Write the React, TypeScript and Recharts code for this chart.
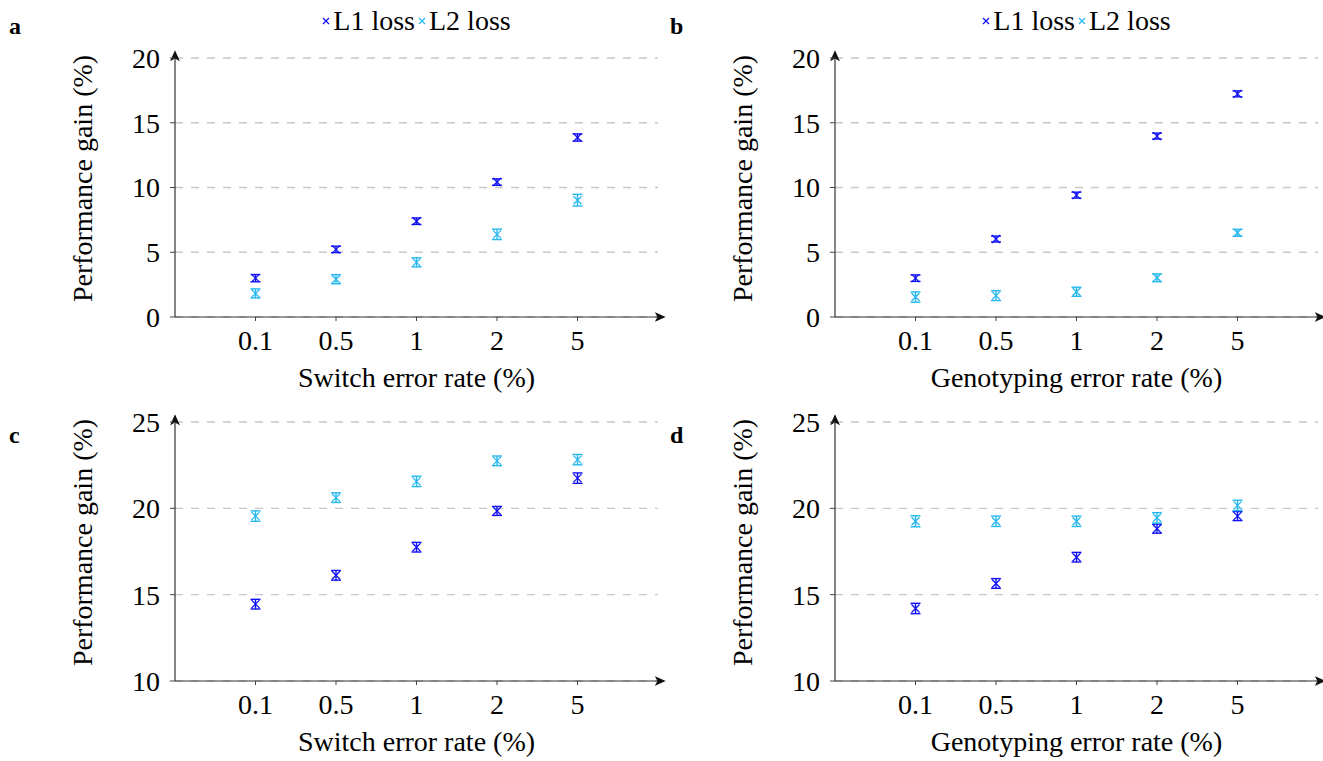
import React from 'react';
import { ScatterChart, Scatter, XAxis, YAxis, CartesianGrid, ErrorBar, Legend } from 'recharts';

const categories = ['0.1', '0.5', '1', '2', '5'];
const catPositions = [1, 2, 3, 4, 5];

const aL1 = [3.0, 5.22, 7.4, 10.42, 13.86];
const aL1Err = [0.28, 0.25, 0.25, 0.25, 0.28];
const aL2 = [1.82, 2.92, 4.22, 6.38, 9.02];
const aL2Err = [0.35, 0.35, 0.35, 0.4, 0.45];

const bL1 = [3.0, 6.02, 9.41, 13.97, 17.23];
const bL1Err = [0.25, 0.23, 0.23, 0.23, 0.23];
const bL2 = [1.54, 1.65, 1.95, 3.03, 6.5];
const bL2Err = [0.4, 0.38, 0.35, 0.3, 0.27];

const cL1 = [14.45, 16.12, 17.75, 19.85, 21.75];
const cL1Err = [0.28, 0.28, 0.28, 0.26, 0.3];
const cL2 = [19.55, 20.62, 21.56, 22.75, 22.82];
const cL2Err = [0.3, 0.28, 0.3, 0.28, 0.3];

const dL1 = [14.2, 15.65, 17.17, 18.82, 19.55];
const dL1Err = [0.3, 0.28, 0.28, 0.26, 0.26];
const dL2 = [19.25, 19.25, 19.25, 19.45, 20.17];
const dL2Err = [0.32, 0.3, 0.3, 0.3, 0.3];

const yTicksTop = [0, 5, 10, 15, 20];
const yTicksBottom = [10, 15, 20, 25];

const L1_COLOR = '#1010f5';
const L2_COLOR = '#25b8ee';
const FONT = 'Liberation Serif, Times New Roman, serif';
const FS = 28;

const build = (vals: number[], errs: number[]) =>
  vals.map((v, i) => ({ x: catPositions[i], y: v, e: errs[i] }));

const crossShape = (color: string) => (props: any) => {
  const { cx, cy } = props;
  if (cx == null || cy == null) return <g />;
  const s = 4;
  return (
    <path
      d={`M${cx - s},${cy - s}L${cx + s},${cy + s}M${cx - s},${cy + s}L${cx + s},${cy - s}`}
      stroke={color}
      strokeWidth={1.3}
      fill="none"
    />
  );
};

const LegendContent = () => (
  <div
    style={{
      display: 'flex',
      justifyContent: 'center',
      alignItems: 'center',
      fontFamily: FONT,
      fontSize: FS,
      color: '#000',
      lineHeight: '30px',
    }}
  >
    {[
      { name: 'L1 loss', color: L1_COLOR },
      { name: 'L2 loss', color: L2_COLOR },
    ].map((it, i) => (
      <span key={it.name} style={{ display: 'inline-flex', alignItems: 'center', marginLeft: i ? 3 : 0 }}>
        <svg width={8} height={8} style={{ marginRight: 3 }}>
          <path d="M1,1L7,7M1,7L7,1" stroke={it.color} strokeWidth={1.3} />
        </svg>
        <span>{it.name}</span>
      </span>
    ))}
  </div>
);

const XLabel = (text: string) => (props: any) => {
  const vb = props.viewBox || {};
  const x = vb.x + vb.width / 2;
  const y = vb.y + 70;
  return (
    <text x={x} y={y} textAnchor="middle" fontFamily={FONT} fontSize={FS} fill="#000">
      {text}
    </text>
  );
};

const YLabel = (props: any) => {
  const vb = props.viewBox || {};
  const cx = vb.x + 17;
  const cy = vb.y + vb.height / 2 - 9;
  return (
    <text
      x={cx}
      y={cy}
      transform={`rotate(-90 ${cx} ${cy})`}
      textAnchor="middle"
      dominantBaseline="central"
      fontFamily={FONT}
      fontSize={FS}
      fill="#000"
    >
      Performance gain (%)
    </text>
  );
};

type PanelProps = {
  left: number;
  top: number;
  width: number;
  height: number;
  marginTop: number;
  marginRight: number;
  marginBottom: number;
  l1: { x: number; y: number; e: number }[];
  l2: { x: number; y: number; e: number }[];
  yDomain: [number, number];
  yTicks: number[];
  xLabel: string;
  legend: boolean;
};

const Panel = (p: PanelProps) => (
  <div style={{ position: 'absolute', left: p.left, top: p.top, width: p.width, height: p.height }}>
    <ScatterChart
      width={p.width}
      height={p.height}
      margin={{ top: p.marginTop, right: p.marginRight, bottom: p.marginBottom, left: 65 }}
    >
      <CartesianGrid horizontal vertical={false} stroke="#c8c8c8" strokeDasharray="8 8" strokeWidth={1.3} />
      <XAxis
        type="number"
        dataKey="x"
        domain={[0, 6]}
        ticks={catPositions}
        tickFormatter={(v: number) => categories[v - 1] ?? ''}
        allowDecimals={false}
        height={70}
        tickSize={4}
        tickMargin={9}
        tick={{ fontFamily: FONT, fontSize: FS, fill: '#000' }}
        tickLine={{ stroke: '#444' }}
        axisLine={{ stroke: '#333', strokeWidth: 1.2, markerEnd: 'url(#axisArrow)' } as any}
        label={{ content: XLabel(p.xLabel) } as any}
      />
      <YAxis
        type="number"
        dataKey="y"
        domain={p.yDomain}
        ticks={p.yTicks}
        width={110}
        tickSize={5}
        tickMargin={10}
        tick={{ fontFamily: FONT, fontSize: FS, fill: '#000' }}
        tickLine={{ stroke: '#444' }}
        axisLine={{ stroke: '#333', strokeWidth: 1.2, markerStart: 'url(#axisArrow)' } as any}
        label={{ content: YLabel } as any}
      />
      {p.legend && (
        <Legend
          verticalAlign="middle"
          align="center"
          layout="horizontal"
          wrapperStyle={{ top: 6, left: 175, width: p.width - 175 - p.marginRight }}
          content={LegendContent as any}
        />
      )}
      <Scatter name="L1 loss" data={p.l1} fill={L1_COLOR} isAnimationActive={false} shape={crossShape(L1_COLOR)}>
        <ErrorBar dataKey="e" direction="y" width={5} stroke={L1_COLOR} strokeWidth={1.4} />
      </Scatter>
      <Scatter name="L2 loss" data={p.l2} fill={L2_COLOR} isAnimationActive={false} shape={crossShape(L2_COLOR)}>
        <ErrorBar dataKey="e" direction="y" width={5} stroke={L2_COLOR} strokeWidth={1.4} />
      </Scatter>
    </ScatterChart>
  </div>
);

const PanelLetter = ({ x, y, t }: { x: number; y: number; t: string }) => (
  <div
    style={{
      position: 'absolute',
      left: x,
      top: y,
      fontFamily: FONT,
      fontWeight: 'bold',
      fontSize: 24,
      lineHeight: '24px',
      color: '#000',
    }}
  >
    {t}
  </div>
);

export default function App() {
  return (
    <div style={{ position: 'absolute', left: 0, top: 0, width: 1323, height: 761, background: '#fff', overflow: 'hidden' }}>
      <svg width={0} height={0} style={{ position: 'absolute' }}>
        <defs>
          <marker
            id="axisArrow"
            viewBox="0 0 10 10"
            refX="3"
            refY="5"
            markerWidth="11"
            markerHeight="11"
            markerUnits="userSpaceOnUse"
            orient="auto-start-reverse"
          >
            <path d="M0,0.5 L10,5 L0,9.5 L2.5,5 Z" fill="#111" />
          </marker>
        </defs>
      </svg>
      <Panel
        left={0}
        top={0}
        width={670}
        height={400}
        marginTop={58}
        marginRight={12}
        marginBottom={13}
        l1={build(aL1, aL1Err)}
        l2={build(aL2, aL2Err)}
        yDomain={[0, 20]}
        yTicks={yTicksTop}
        xLabel="Switch error rate (%)"
        legend
      />
      <Panel
        left={660}
        top={0}
        width={663}
        height={400}
        marginTop={58}
        marginRight={5}
        marginBottom={13}
        l1={build(bL1, bL1Err)}
        l2={build(bL2, bL2Err)}
        yDomain={[0, 20]}
        yTicks={yTicksTop}
        xLabel="Genotyping error rate (%)"
        legend
      />
      <Panel
        left={0}
        top={380}
        width={670}
        height={381}
        marginTop={42}
        marginRight={12}
        marginBottom={10}
        l1={build(cL1, cL1Err)}
        l2={build(cL2, cL2Err)}
        yDomain={[10, 25]}
        yTicks={yTicksBottom}
        xLabel="Switch error rate (%)"
        legend={false}
      />
      <Panel
        left={660}
        top={380}
        width={663}
        height={381}
        marginTop={42}
        marginRight={5}
        marginBottom={10}
        l1={build(dL1, dL1Err)}
        l2={build(dL2, dL2Err)}
        yDomain={[10, 25]}
        yTicks={yTicksBottom}
        xLabel="Genotyping error rate (%)"
        legend={false}
      />
      <PanelLetter x={9} y={14} t="a" />
      <PanelLetter x={670} y={14} t="b" />
      <PanelLetter x={9} y={423} t="c" />
      <PanelLetter x={670} y={423} t="d" />
    </div>
  );
}
